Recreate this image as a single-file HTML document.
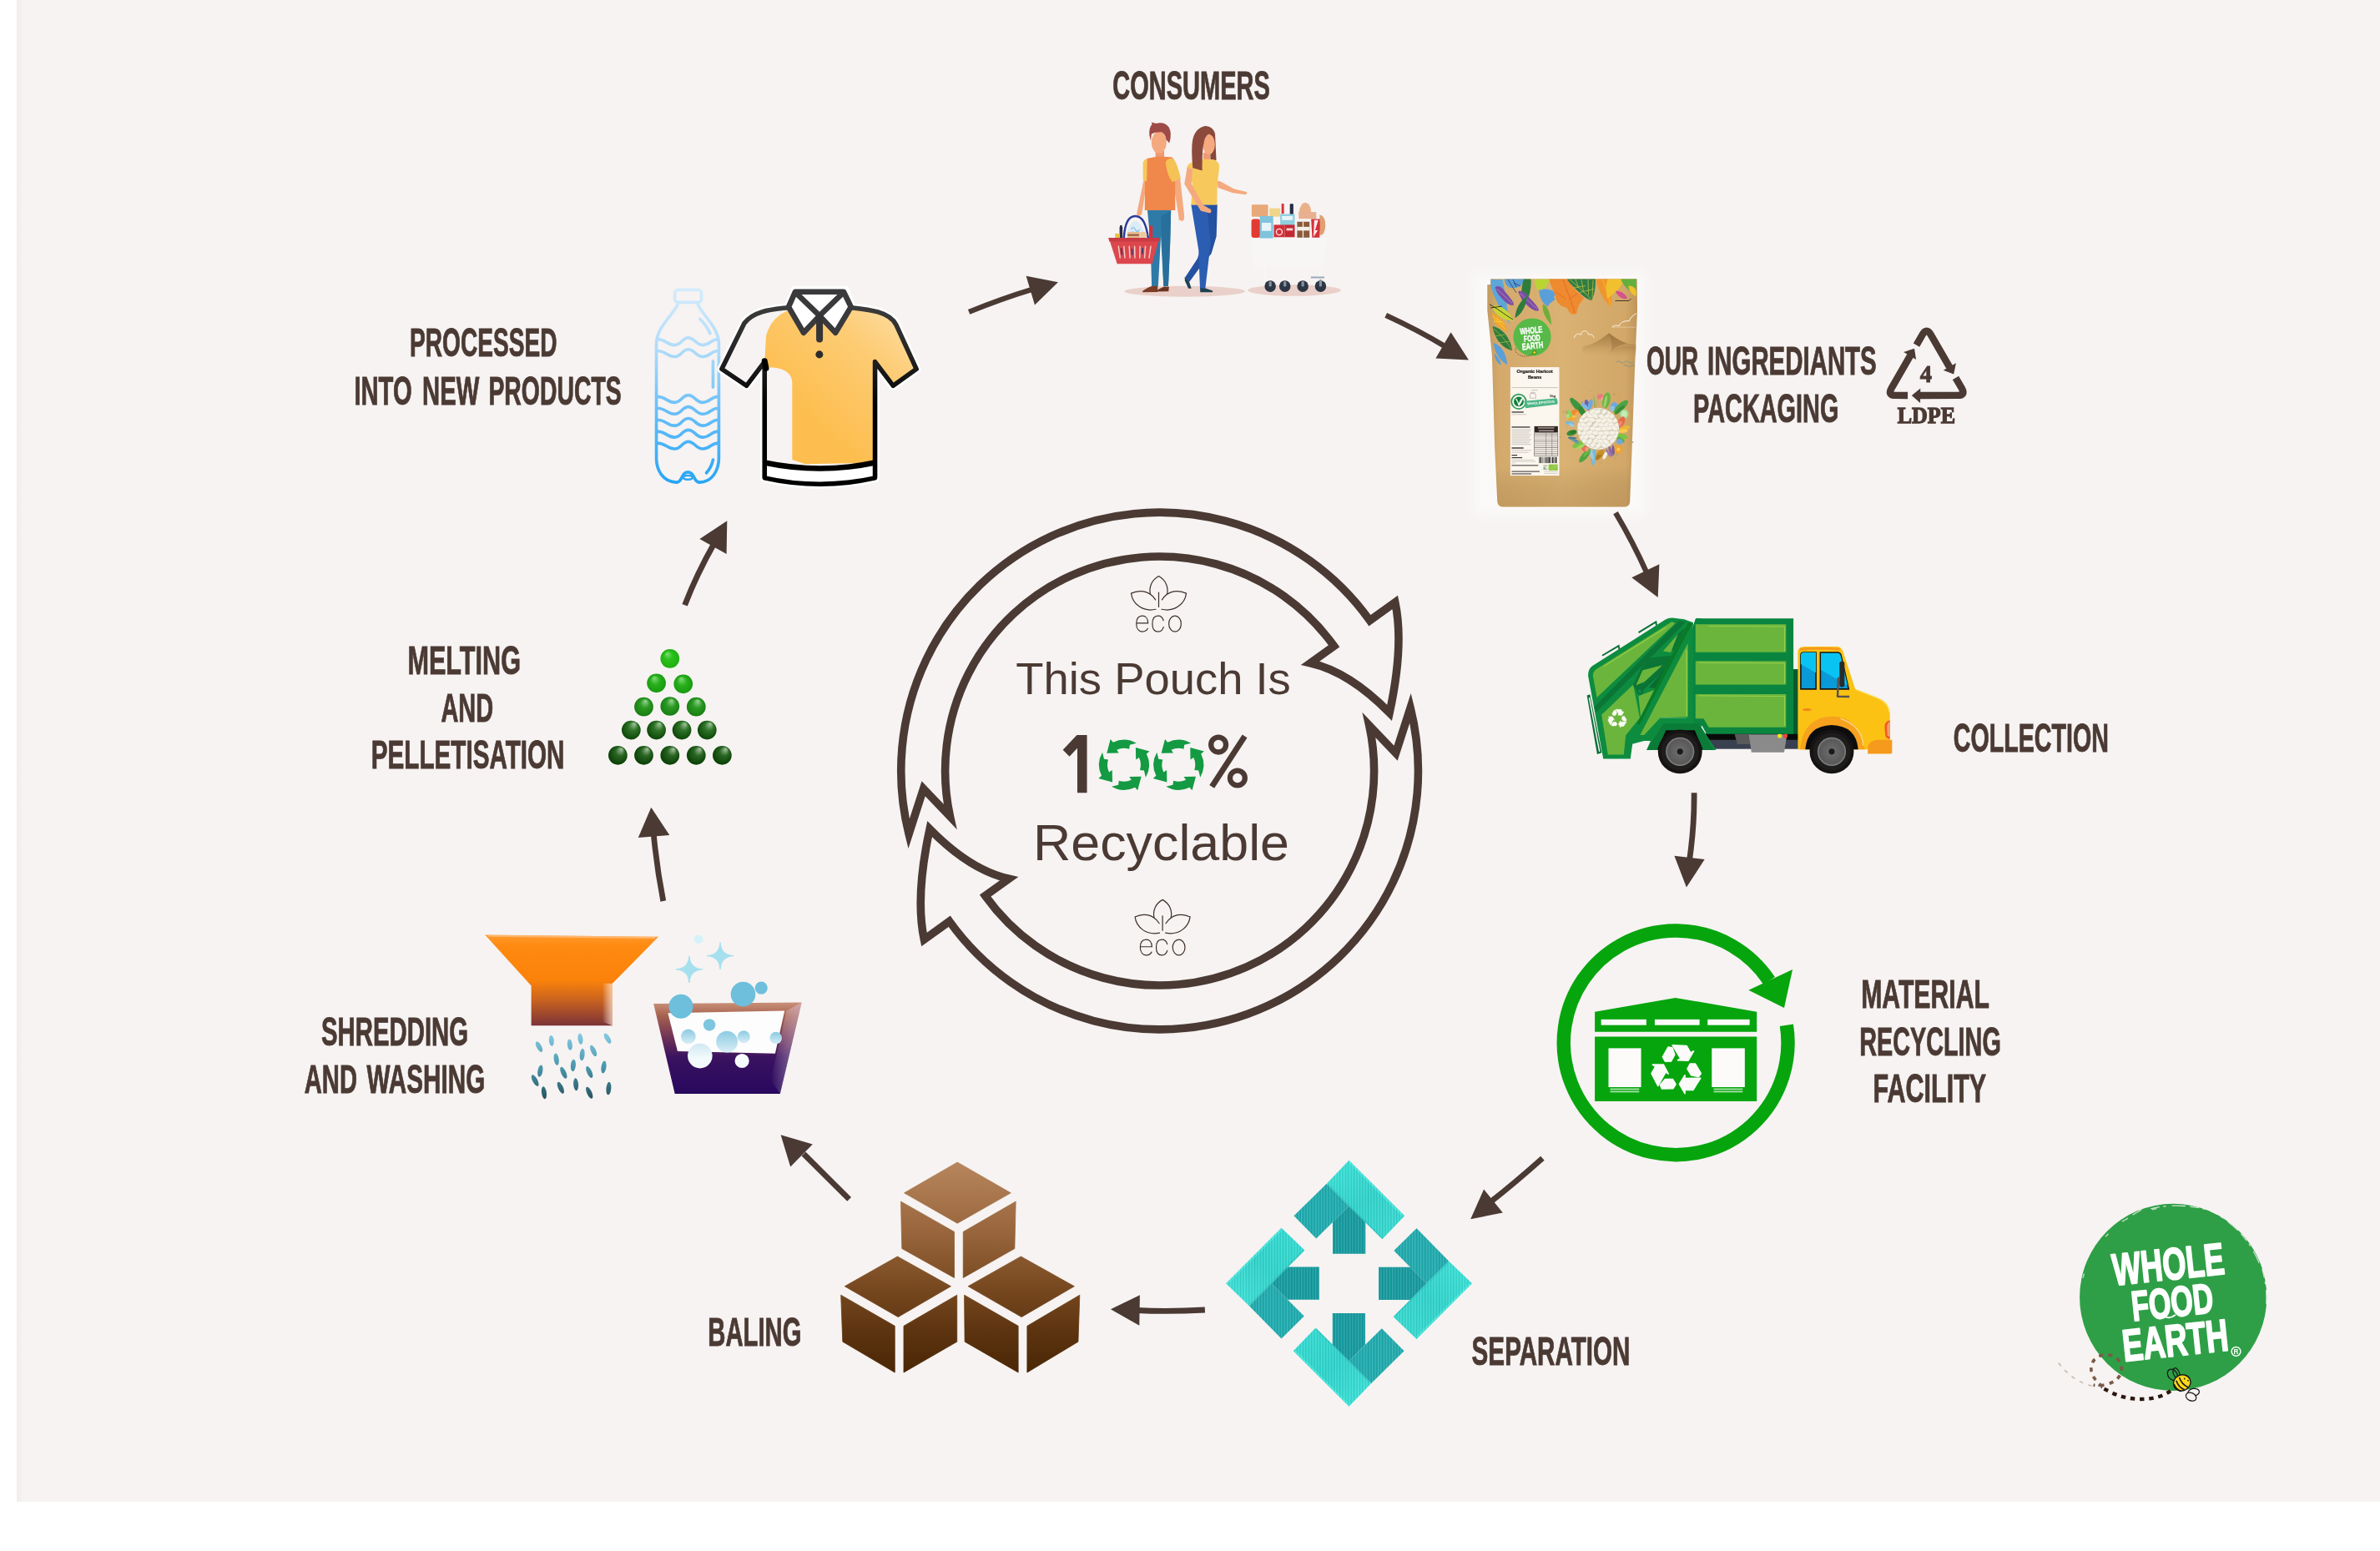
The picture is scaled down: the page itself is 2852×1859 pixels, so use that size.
<!DOCTYPE html>
<html><head><meta charset="utf-8"><title>Recycling cycle</title>
<style>
html,body{margin:0;padding:0;background:#fff;}
svg{display:block;will-change:transform;}
text{font-family:"Liberation Sans",sans-serif;}
text.sf{font-family:"Liberation Serif",serif;font-weight:bold;}
.lb{font-family:"Liberation Sans",sans-serif;font-weight:bold;fill:#4b3a34;stroke:#4b3a34;stroke-width:0.9px;}
</style></head><body>
<svg width="2852" height="1859" viewBox="0 0 2852 1859">
<defs>
<linearGradient id="bgL" x1="0" x2="1" y1="0" y2="0"><stop offset="0" stop-color="#f0eceb"/><stop offset="1" stop-color="#f6f3f2"/></linearGradient>
</defs>
<rect x="20" y="0" width="2832" height="1800" fill="#f6f3f2"/>
<rect x="20" y="0" width="8" height="1800" fill="url(#bgL)"/>
<defs><filter id="pglow" x="-20%" y="-20%" width="140%" height="140%"><feGaussianBlur stdDeviation="7"/></filter>
</defs>
<rect x="1766" y="328" width="206" height="290" fill="#fdfcfb" opacity="0.75" filter="url(#pglow)"/>
<defs>
<g id="rec3a" fill="currentColor" stroke="currentColor" stroke-width="5" stroke-linejoin="round">
<polygon points="9,55.3 30.5,21 30.5,33.5 91,32.5 62,78.5 30.5,78.5 30.5,92"/>
<polygon points="51,-23.5 70.5,-23.5 93,14 83.5,27 55,21.5 40,-3.5"/>
</g>
<g id="rec3"><use href="#rec3a"/><use href="#rec3a" transform="rotate(120)"/><use href="#rec3a" transform="rotate(240)"/></g>
</defs>
<defs>
<!-- Whole Food Earth wordmark, in logo-local coords (zoom 5.54, origin (2440,1420)); circle centre (909.5,747.5) r 620 -->
<g id="wfeText" transform="rotate(-6 909.5 747.5)" fill="#fff" stroke="#fff" stroke-width="11" stroke-linejoin="round" stroke-linecap="round" font-family="Liberation Sans, sans-serif" font-weight="bold" text-anchor="middle">
<text x="900" y="628" font-size="298" textLength="745" lengthAdjust="spacingAndGlyphs">WHOLE</text>
<text x="900" y="876" font-size="280" textLength="545" lengthAdjust="spacingAndGlyphs">FOOD</text>
<text x="893" y="1136" font-size="298" textLength="705" lengthAdjust="spacingAndGlyphs">EARTH</text>
</g>
</defs>
<g class="lb" opacity="0.999" font-size="47.24">
<text x="1333.3" y="119.4" textLength="188.6" lengthAdjust="spacingAndGlyphs">CONSUMERS</text>
<text x="1972.9" y="449.1" textLength="62.2" lengthAdjust="spacingAndGlyphs">OUR</text>
<text x="2046.1" y="449.1" textLength="202.6" lengthAdjust="spacingAndGlyphs">INGREDIANTS</text>
<text x="2029.1" y="505.8" textLength="174.3" lengthAdjust="spacingAndGlyphs">PACKAGING</text>
<text x="2340.8" y="900.9" textLength="186.1" lengthAdjust="spacingAndGlyphs">COLLECTION</text>
<text x="2230.2" y="1207.8" textLength="153.7" lengthAdjust="spacingAndGlyphs">MATERIAL</text>
<text x="2228.2" y="1264.6" textLength="169.6" lengthAdjust="spacingAndGlyphs">RECYCLING</text>
<text x="2244.6" y="1321.3" textLength="135.5" lengthAdjust="spacingAndGlyphs">FACILITY</text>
<text x="1763.6" y="1636.1" textLength="189.9" lengthAdjust="spacingAndGlyphs">SEPARATION</text>
<text x="848.3" y="1612.8" textLength="112.1" lengthAdjust="spacingAndGlyphs">BALING</text>
<text x="385.0" y="1253.3" textLength="176.1" lengthAdjust="spacingAndGlyphs">SHREDDING</text>
<text x="364.8" y="1310.3" textLength="63.2" lengthAdjust="spacingAndGlyphs">AND</text>
<text x="439.5" y="1310.3" textLength="141.7" lengthAdjust="spacingAndGlyphs">WASHING</text>
<text x="488.4" y="807.8" textLength="135.6" lengthAdjust="spacingAndGlyphs">MELTING</text>
<text x="528.4" y="864.6" textLength="62.8" lengthAdjust="spacingAndGlyphs">AND</text>
<text x="444.7" y="921.3" textLength="231.8" lengthAdjust="spacingAndGlyphs">PELLETISATION</text>
<text x="491.0" y="427.1" textLength="176.5" lengthAdjust="spacingAndGlyphs">PROCESSED</text>
<text x="424.4" y="484.6" textLength="69.2" lengthAdjust="spacingAndGlyphs">INTO</text>
<text x="506.1" y="484.6" textLength="68.2" lengthAdjust="spacingAndGlyphs">NEW</text>
<text x="585.4" y="484.6" textLength="159.3" lengthAdjust="spacingAndGlyphs">PRODUCTS</text>
</g>
<g fill="#4b3a34" stroke="#4b3a34">
<path d="M1161.1 373.9 Q1200 358 1238 346.5" fill="none" stroke-width="6.2"/>
<polygon points="1267.9,338.2 1229.6,330.7 1240.0,365.4" stroke="none"/>
<path d="M1660.7 377.9 Q1700 396 1733 416" fill="none" stroke-width="6.4"/>
<polygon points="1760.0,431.4 1738.6,398.2 1720.4,429.6" stroke="none"/>
<path d="M1936 614.7 Q1957 650 1974 688" fill="none" stroke-width="6.4"/>
<polygon points="1986.7,716.1 1988.4,676.3 1955.3,692.2" stroke="none"/>
<path d="M2030.1 950.3 Q2030.5 990 2024.5 1031" fill="none" stroke-width="6.8"/>
<polygon points="2020.9,1063.4 2006.4,1025.7 2042.7,1030.1" stroke="none"/>
<path d="M1848.4 1388.2 Q1815 1418 1785 1441.5" fill="none" stroke-width="6.8"/>
<polygon points="1762.2,1461.2 1778.1,1425.6 1800.8,1453.5" stroke="none"/>
<path d="M1443.9 1570 Q1400 1572.5 1362 1570.5" fill="none" stroke-width="6.8"/>
<polygon points="1330.9,1569.2 1365.9,1552.2 1365.3,1588.8" stroke="none"/>
<path d="M1017.6 1437.4 L963 1383" fill="none" stroke-width="6.8"/>
<polygon points="935.6,1360.2 973.8,1371.5 947.2,1398.4" stroke="none"/>
<path d="M794.8 1080 Q787 1040 783.3 1000" fill="none" stroke-width="6.8"/>
<polygon points="780.3,967.7 764.8,1003.9 802.3,1001.0" stroke="none"/>
<path d="M820.6 725.2 Q835 688 856 651" fill="none" stroke-width="6.8"/>
<polygon points="871.3,624.2 838.4,646.1 870.6,663.9" stroke="none"/>
</g>
<g fill="none" stroke="#4b3a34" stroke-width="9.6" stroke-linejoin="miter" stroke-miterlimit="10">
<path d="M1089.1 999.5 A309.8 309.8 0 0 1 1641.5 743.7 L1671.8 721.9 Q1682.7 773.1 1665.1 854.3 Q1617.0 805.3 1570.3 794.7 L1598.6 774.4 A257.0 257.0 0 0 0 1138.5 978.7 L1106.6 945.3 Z"/>
<path d="M1690.1 848.5 A309.8 309.8 0 0 1 1137.7 1104.3 L1107.4 1126.1 Q1096.5 1074.9 1114.1 993.7 Q1162.2 1042.7 1208.9 1053.3 L1180.6 1073.6 A257.0 257.0 0 0 0 1640.7 869.3 L1672.6 902.7 Z"/>
</g>
<defs><g id="eco" fill="none" stroke="#3e302b" stroke-width="17" stroke-linecap="round" stroke-linejoin="round">
<path d="M825 290 C 700 360, 660 480, 682 590 M825 290 C 950 360, 990 480, 968 590"/>
<path d="M360 580 C 480 520, 660 520, 770 690 M360 580 C 380 760, 560 900, 775 850"/>
<path d="M1290 580 C 1170 520, 990 520, 880 690 M1290 580 C 1270 760, 1090 900, 875 850"/>
<path d="M825 565 L825 810"/>
<path d="M452 1085 L645 1085 C 645 1000, 600 962, 548 962 C 480 962, 448 1020, 448 1095 C 448 1170, 485 1228, 552 1228 C 595 1228, 625 1205, 640 1175"/>
<path d="M905 1040 C 890 990, 860 962, 815 962 C 750 962, 718 1020, 718 1095 C 718 1170, 750 1228, 815 1228 C 860 1228, 892 1198, 905 1150"/>
<ellipse cx="1100" cy="1095" rx="104" ry="133"/>
</g></defs>
<use href="#eco" transform="translate(1330,670) scale(0.07092)"/>
<use href="#eco" transform="translate(1334.6,1057.8) scale(0.07092)"/>
<g fill="#4b3a34" font-family="Liberation Sans, sans-serif">
<text x="1217.3" y="831.9" font-size="54.5" textLength="329.5" lengthAdjust="spacingAndGlyphs">This Pouch Is</text>
<text x="1238" y="1030.7" font-size="62" textLength="307" lengthAdjust="spacingAndGlyphs">Recyclable</text>
</g>
<g transform="translate(1260,860) scale(0.10504)">
<polygon points="290,200 405,200 405,860 295,860 295,350 205,445 130,368" fill="#4b3a34"/>
<g fill="none" stroke="#4b3a34"><circle cx="1905" cy="310" r="85" stroke-width="60"/><circle cx="2122" cy="690" r="85" stroke-width="60"/><path d="M2205 212 L1830 790" stroke-width="66"/></g>
<g fill="#149a42">
<path d="M970.5 293.2 A285 285 0 0 0 703.1 283.8 L673.1 248.6 L631.1 407.2 L767.8 404.8 L744.7 369.2 A190 190 0 0 1 886.7 359.3 L893.5 311.7 Z"/>
<path d="M581.2 397.5 A285 285 0 0 0 571.8 664.9 L536.6 694.9 L695.2 736.9 L692.8 600.2 L657.2 623.3 A190 190 0 0 1 647.3 481.3 L599.7 474.5 Z"/>
<path d="M685.5 786.8 A285 285 0 0 0 952.9 796.2 L982.9 831.4 L1024.9 672.8 L888.2 675.2 L911.3 710.8 A190 190 0 0 1 769.3 720.7 L762.5 768.3 Z"/>
<path d="M1074.8 682.5 A285 285 0 0 0 1084.2 415.1 L1119.4 385.1 L960.8 343.1 L963.2 479.8 L998.8 456.7 A190 190 0 0 1 1008.7 598.7 L1056.3 605.5 Z"/>
<path d="M1592.5 293.2 A285 285 0 0 0 1325.1 283.8 L1295.1 248.6 L1253.1 407.2 L1389.8 404.8 L1366.7 369.2 A190 190 0 0 1 1508.7 359.3 L1515.5 311.7 Z"/>
<path d="M1203.2 397.5 A285 285 0 0 0 1193.8 664.9 L1158.6 694.9 L1317.2 736.9 L1314.8 600.2 L1279.2 623.3 A190 190 0 0 1 1269.3 481.3 L1221.7 474.5 Z"/>
<path d="M1307.5 786.8 A285 285 0 0 0 1574.9 796.2 L1604.9 831.4 L1646.9 672.8 L1510.2 675.2 L1533.3 710.8 A190 190 0 0 1 1391.3 720.7 L1384.5 768.3 Z"/>
<path d="M1696.8 682.5 A285 285 0 0 0 1706.2 415.1 L1741.4 385.1 L1582.8 343.1 L1585.2 479.8 L1620.8 456.7 A190 190 0 0 1 1630.7 598.7 L1678.3 605.5 Z"/>
</g></g>
<!-- pellets: local zoom 4.76, origin (420,740) -->
<defs>
<radialGradient id="pg1" cx="0.5" cy="0.5" r="0.5" fx="0.35" fy="0.22"><stop offset="0" stop-color="#7fe07a"/><stop offset="0.45" stop-color="#2bc01c"/><stop offset="1" stop-color="#1fb010"/></radialGradient>
<radialGradient id="pg2" cx="0.5" cy="0.5" r="0.5" fx="0.38" fy="0.2"><stop offset="0" stop-color="#86dc80"/><stop offset="0.5" stop-color="#27b01a"/><stop offset="1" stop-color="#189a10"/></radialGradient>
<radialGradient id="pg3" cx="0.5" cy="0.5" r="0.55" fx="0.6" fy="0.18"><stop offset="0" stop-color="#9fd39a"/><stop offset="0.45" stop-color="#2b9a22"/><stop offset="1" stop-color="#157a10"/></radialGradient>
<radialGradient id="pg4" cx="0.5" cy="0.5" r="0.6" fx="0.68" fy="0.15"><stop offset="0" stop-color="#a5c7a0"/><stop offset="0.4" stop-color="#2f7428"/><stop offset="0.85" stop-color="#0f4a0a"/></radialGradient>
<radialGradient id="pg5" cx="0.5" cy="0.5" r="0.6" fx="0.7" fy="0.15"><stop offset="0" stop-color="#a9c4a5"/><stop offset="0.4" stop-color="#2a6624"/><stop offset="0.85" stop-color="#0b4207"/></radialGradient>
</defs>
<g transform="translate(420,740) scale(0.210084)">
<circle cx="1822" cy="235" r="54" fill="url(#pg1)"/>
<circle cx="1745" cy="375" r="54" fill="url(#pg2)"/><circle cx="1898" cy="380" r="54" fill="url(#pg2)"/>
<circle cx="1673" cy="510" r="54" fill="url(#pg3)"/><circle cx="1822" cy="507" r="54" fill="url(#pg3)"/><circle cx="1972" cy="510" r="54" fill="url(#pg3)"/>
<circle cx="1601" cy="643" r="54" fill="url(#pg4)"/><circle cx="1745" cy="643" r="54" fill="url(#pg4)"/><circle cx="1890" cy="643" r="54" fill="url(#pg4)"/><circle cx="2034" cy="643" r="54" fill="url(#pg4)"/>
<circle cx="1525" cy="787" r="54" fill="url(#pg5)"/><circle cx="1673" cy="787" r="54" fill="url(#pg5)"/><circle cx="1822" cy="787" r="54" fill="url(#pg5)"/><circle cx="1972" cy="787" r="54" fill="url(#pg5)"/><circle cx="2120" cy="787" r="54" fill="url(#pg5)"/>
</g>
<!-- cubes: local zoom 3.71875, origin (820,1350) -->
<defs>
<linearGradient id="cubeG" gradientUnits="userSpaceOnUse" x1="0" y1="160" x2="0" y2="1100"><stop offset="0" stop-color="#b8865c"/><stop offset="0.35" stop-color="#96633a"/><stop offset="0.6" stop-color="#77481f"/><stop offset="0.8" stop-color="#5d3410"/><stop offset="1" stop-color="#4a2605"/></linearGradient>
</defs>
<g transform="translate(820,1350) scale(0.268908)" fill="url(#cubeG)" stroke="url(#cubeG)" stroke-width="3" stroke-linejoin="round">
<polygon points="1217,160 1455,297 1217,432 980,297"/>
<polygon points="965,335 1203,470 1203,675 970,545"/>
<polygon points="1243,470 1477,335 1472,545 1243,675"/>
<polygon points="950,580 1188,713 953,850 715,713"/>
<polygon points="698,752 938,890 938,1097 706,960"/>
<polygon points="978,890 1215,752 1215,960 978,1097"/>
<polygon points="1500,580 1738,713 1503,850 1265,713"/>
<polygon points="1248,752 1488,890 1488,1097 1250,960"/>
<polygon points="1528,890 1762,752 1755,960 1528,1097"/>
</g>
<!-- separation: local zoom 4.4074, origin (1440,1370) -->
<defs>
<linearGradient id="sepL" x1="0" y1="0" x2="1" y2="1"><stop offset="0" stop-color="#3ce3d8"/><stop offset="0.5" stop-color="#2ed3cb"/><stop offset="1" stop-color="#35dcd2"/></linearGradient>
<polygon id="sp1" points="692,585 692,418 778,333 865,418 865,585"/>
<polygon id="sp2" points="660,215 487,385 605,505 778,333"/>
<polygon id="sp3" points="778,92 1072,385 954,508 660,215"/>
<g id="sepA">
<use href="#sp1" fill="#14999d"/><use href="#sp2" fill="#1eaaad"/><use href="#sp3" fill="url(#sepL)"/>
<path d="M778 100 L1062 385" stroke="#4df0e4" stroke-width="7" fill="none" opacity="0.75"/>
<path d="M668 218 L950 500" stroke="#1fbcb8" stroke-width="6" fill="none" opacity="0.6"/>
</g>
<g id="sepM" fill="#fff"><use href="#sp1"/><use href="#sp2"/><use href="#sp3"/></g>
<mask id="sepMask" maskUnits="userSpaceOnUse" x="100" y="60" width="1380" height="1380">
<use href="#sepM"/><use href="#sepM" transform="rotate(90 778 742)"/><use href="#sepM" transform="rotate(180 778 742)"/><use href="#sepM" transform="rotate(270 778 742)"/>
</mask>
<pattern id="hatch" patternUnits="userSpaceOnUse" width="15" height="60" patternTransform="skewY(-20)"><rect x="0" y="0" width="5" height="60" fill="#fff" opacity="0.16"/><rect x="8" y="0" width="4" height="60" fill="#003a40" opacity="0.10"/></pattern>
</defs>
<g transform="translate(1440,1370) scale(0.226891)">
<use href="#sepA"/>
<use href="#sepA" transform="rotate(90 778 742)"/>
<use href="#sepA" transform="rotate(180 778 742)"/>
<use href="#sepA" transform="rotate(270 778 742)"/>
<rect x="100" y="60" width="1380" height="1380" fill="url(#hatch)" mask="url(#sepMask)"/>
</g>
<!-- facility: local zoom 3.9667, origin (1840,1090) -->
<g transform="translate(1840,1090) scale(0.2521)">
<path d="M1193.4 550.6 A533 533 0 1 1 1110.9 339.0" fill="none" stroke="#06a50d" stroke-width="65"/>
<polygon points="1222,286 1013,384 1182,468" fill="#06a50d"/>
<polygon points="282,487 665,420 1052,487 1052,582 282,582" fill="#06a50d"/>
<rect x="282" y="605" width="770" height="307" fill="#06a50d"/>
<g fill="#fcfbfa"><rect x="312" y="523" width="215" height="27"/><rect x="567" y="523" width="213" height="27"/><rect x="818" y="523" width="200" height="27"/>
<rect x="347" y="660" width="155" height="185"/><rect x="838" y="660" width="157" height="185"/></g>
<g fill="#a9e2a8"><rect x="355" y="851" width="138" height="7"/><rect x="355" y="863" width="138" height="7"/><rect x="847" y="851" width="138" height="7"/><rect x="847" y="863" width="138" height="7"/></g>
<use href="#rec3" transform="translate(672.8,762.4) scale(1.2275)" color="#fcfbfa"/>
</g>
<!-- shredding funnel + washing basin: local zoom 3.71875, origin (340,1090) -->
<defs>
<linearGradient id="funG" gradientUnits="userSpaceOnUse" x1="0" y1="113" x2="0" y2="518"><stop offset="0" stop-color="#ff9a2e"/><stop offset="0.12" stop-color="#ff8a10"/><stop offset="0.5" stop-color="#fb820a"/><stop offset="0.72" stop-color="#c8621f"/><stop offset="1" stop-color="#7c3338"/></linearGradient>
<linearGradient id="funH" x1="0" y1="0" x2="1" y2="0"><stop offset="0" stop-color="#fff" stop-opacity="0"/><stop offset="1" stop-color="#ffe0c8" stop-opacity="0.75"/></linearGradient>
<linearGradient id="flk" gradientUnits="userSpaceOnUse" x1="0" y1="550" x2="0" y2="850"><stop offset="0" stop-color="#86cbe4"/><stop offset="0.5" stop-color="#4b97ad"/><stop offset="1" stop-color="#27525f"/></linearGradient>
<linearGradient id="basG" gradientUnits="userSpaceOnUse" x1="0" y1="415" x2="0" y2="822"><stop offset="0" stop-color="#c99078"/><stop offset="0.15" stop-color="#a5604f"/><stop offset="0.4" stop-color="#6b2f58"/><stop offset="0.6" stop-color="#3a1260"/><stop offset="1" stop-color="#28085e"/></linearGradient>
<linearGradient id="basH" x1="0" y1="0" x2="1" y2="0"><stop offset="0" stop-color="#fff" stop-opacity="0"/><stop offset="1" stop-color="#d8b8d8" stop-opacity="0.55"/></linearGradient>
<linearGradient id="bubL" x1="0" y1="0" x2="0" y2="1"><stop offset="0" stop-color="#8ccbe2"/><stop offset="1" stop-color="#d9eef6"/></linearGradient>
<linearGradient id="bubW" x1="0" y1="0" x2="0" y2="1"><stop offset="0" stop-color="#cfe8f2"/><stop offset="0.6" stop-color="#f4fafc"/></linearGradient>
<path id="spk" d="M0 -60 Q2 -2 60 0 Q2 2 0 60 Q-2 2 -60 0 Q-2 -2 0 -60Z" stroke-width="5"/>
</defs>
<g transform="translate(340,1090) scale(0.268908)">
<polygon points="897,113 1670,122 1465,330 1465,518 1103,518 1103,340" fill="url(#funG)"/>
<polygon points="1420,330 1465,330 1465,518 1420,500" fill="url(#funH)"/>
<path d="M910 118 L1655 126" stroke="#ffc38a" stroke-width="8" opacity="0.7"/>
<g fill="url(#flk)">
<ellipse cx="1138" cy="612" rx="11" ry="26" transform="rotate(-28 1138 612)"/><ellipse cx="1193" cy="585" rx="11" ry="24" transform="rotate(-5 1193 585)"/><ellipse cx="1275" cy="603" rx="11" ry="25" transform="rotate(-5 1275 603)"/><ellipse cx="1322" cy="577" rx="11" ry="25" transform="rotate(-8 1322 577)"/><ellipse cx="1443" cy="575" rx="11" ry="26" transform="rotate(-30 1443 575)"/>
<ellipse cx="1215" cy="668" rx="11" ry="27" transform="rotate(-8 1215 668)"/><ellipse cx="1330" cy="647" rx="11" ry="27" transform="rotate(5 1330 647)"/><ellipse cx="1380" cy="630" rx="11" ry="27" transform="rotate(-25 1380 630)"/>
<ellipse cx="1143" cy="720" rx="11" ry="27" transform="rotate(10 1143 720)"/><ellipse cx="1290" cy="695" rx="11" ry="27" transform="rotate(5 1290 695)"/><ellipse cx="1247" cy="728" rx="11" ry="28" transform="rotate(-25 1247 728)"/><ellipse cx="1362" cy="725" rx="11" ry="28" transform="rotate(-25 1362 725)"/><ellipse cx="1426" cy="703" rx="11" ry="28" transform="rotate(8 1426 703)"/>
<ellipse cx="1120" cy="763" rx="11" ry="28" transform="rotate(-28 1120 763)"/><ellipse cx="1302" cy="780" rx="11" ry="28" transform="rotate(-5 1302 780)"/><ellipse cx="1234" cy="795" rx="11" ry="28" transform="rotate(-25 1234 795)"/><ellipse cx="1448" cy="798" rx="11" ry="29" transform="rotate(5 1448 798)"/>
<ellipse cx="1160" cy="817" rx="11" ry="28" transform="rotate(-8 1160 817)"/><ellipse cx="1362" cy="817" rx="11" ry="28" transform="rotate(-25 1362 817)"/>
</g>
<polygon points="1648,420 2308,415 2212,822 1743,822" fill="url(#basG)"/>
<polygon points="2240,452 2308,415 2212,822 2170,760" fill="url(#basH)"/>
<polygon points="1712,462 2232,452 2190,642 1755,632" fill="#fdfdfd"/>
<circle cx="1770" cy="432" r="54" fill="#6dbfdb"/><circle cx="2047" cy="378" r="55" fill="#6dbfdb"/><circle cx="2128" cy="350" r="28" fill="#6dbfdb"/>
<circle cx="1897" cy="515" r="27" fill="#7ec6df"/>
<circle cx="1803" cy="567" r="33" fill="url(#bubL)"/><circle cx="1975" cy="590" r="48" fill="url(#bubL)"/><circle cx="2050" cy="568" r="28" fill="url(#bubL)"/><circle cx="2193" cy="573" r="27" fill="url(#bubL)"/>
<circle cx="1855" cy="653" r="55" fill="url(#bubW)"/><circle cx="2042" cy="675" r="32" fill="#f6fbfd"/>
<use href="#spk" transform="translate(1807,267)" fill="#a6e0ee" stroke="#a6e0ee"/><use href="#spk" transform="translate(1945,207)" fill="#a6e0ee" stroke="#a6e0ee"/>
<circle cx="1848" cy="133" r="20" fill="#d5f2f8"/>
</g>
<!-- bottle + polo shirt: local zoom 5.744, origin (770,330) -->
<defs>
<linearGradient id="botG" gradientUnits="userSpaceOnUse" x1="0" y1="95" x2="0" y2="1430"><stop offset="0" stop-color="#d4ebfb"/><stop offset="0.3" stop-color="#b1dcfa"/><stop offset="0.6" stop-color="#6ec1f8"/><stop offset="1" stop-color="#27a5f5"/></linearGradient>
<linearGradient id="shirtG" x1="1" y1="0" x2="0.35" y2="0.75"><stop offset="0" stop-color="#fddfa8"/><stop offset="0.45" stop-color="#fdcb72"/><stop offset="1" stop-color="#fdbe4f"/></linearGradient>
<linearGradient id="olG" gradientUnits="userSpaceOnUse" x1="0" y1="100" x2="0" y2="1440"><stop offset="0" stop-color="#444"/><stop offset="0.35" stop-color="#222"/><stop offset="0.6" stop-color="#000"/></linearGradient>
</defs>
<g transform="translate(770,330) scale(0.174095)">
<g fill="none" stroke="url(#botG)" stroke-width="21" stroke-linecap="round" stroke-linejoin="round">
<rect x="222" y="100" width="183" height="86" rx="22"/>
<path d="M245 190 C 235 250, 95 350, 95 470 L95 1260 C 95 1340, 140 1425, 235 1425 C 275 1425, 265 1355, 312 1355 C 360 1355, 350 1425, 390 1425 C 480 1425, 525 1340, 525 1260 L525 470 C 525 350, 385 250, 378 190"/>
<path d="M100 440 C 160 440, 170 480, 220 480 C 270 480, 270 430, 315 430 C 360 430, 365 480, 415 480 C 465 480, 470 440, 520 440"/>
<path d="M100 520 C 160 520, 170 560, 220 560 C 270 560, 270 510, 315 510 C 360 510, 365 560, 415 560 C 465 560, 470 520, 520 520"/>
<path d="M100 835 C 160 835, 170 875, 220 875 C 270 875, 270 825, 315 825 C 360 825, 365 875, 415 875 C 465 875, 470 835, 520 835"/>
<path d="M100 915 C 160 915, 170 955, 220 955 C 270 955, 270 905, 315 905 C 360 905, 365 955, 415 955 C 465 955, 470 915, 520 915"/>
<path d="M100 995 C 160 995, 170 1035, 220 1035 C 270 1035, 270 985, 315 985 C 360 985, 365 1035, 415 1035 C 465 1035, 470 995, 520 995"/>
<path d="M100 1075 C 160 1075, 170 1115, 220 1115 C 270 1115, 270 1065, 315 1065 C 360 1065, 365 1115, 415 1115 C 465 1115, 470 1075, 520 1075"/>
<path d="M100 1155 C 160 1155, 170 1195, 220 1195 C 270 1195, 270 1145, 315 1145 C 360 1145, 365 1195, 415 1195 C 465 1195, 470 1155, 520 1155"/>
<path d="M395 300 Q440 345 465 400 M485 590 L485 770 M485 1270 Q475 1320 440 1360"/>
<ellipse cx="312" cy="1392" rx="32" ry="14" stroke-width="14"/>
</g>
<!-- shirt -->
<path id="shirtO" d="M1003 222 C 900 235, 770 240, 700 330 L545 645 L715 760 L840 595 L840 1395 Q1220 1480 1600 1395 L1600 595 L1725 760 L1885 645 L1745 340 C 1700 250, 1560 235, 1437 222 L1395 105 L1050 105 Z" fill="#fff" stroke="#fff" stroke-width="62" stroke-linejoin="round"/>
<path d="M1003 222 C 900 235, 770 240, 700 330 L545 645 L715 760 L840 595 L840 1395 Q1220 1480 1600 1395 L1600 595 L1725 760 L1885 645 L1745 340 C 1700 250, 1560 235, 1437 222 L1395 105 L1050 105 Z" fill="#f7f3f2"/>
<path d="M1003 240 C 960 260, 880 300, 850 420 L840 600 L840 640 C 900 625, 1030 640, 1030 740 L1030 1270 L1120 1300 L1600 1290 L1600 595 L1725 760 L1885 645 L1745 340 C 1700 250, 1560 235, 1437 222 L1330 395 L1215 260 L1110 395 Z" fill="url(#shirtG)"/>
<path d="M840 1285 Q1220 1365 1600 1285 L1600 1395 Q1220 1480 840 1395 Z" fill="#fff"/>
<path d="M840 1290 Q1220 1370 1600 1290" fill="none" stroke="#000" stroke-width="38"/>
<path d="M1003 222 C 900 235, 770 240, 700 330 L545 645 L715 760 L840 595 L840 1395 Q1220 1480 1600 1395 L1600 595 L1725 760 L1885 645 L1745 340 C 1700 250, 1560 235, 1437 222" fill="none" stroke="url(#olG)" stroke-width="32" stroke-linejoin="round" stroke-linecap="round"/>
<path d="M840 590 L850 640" stroke="#000" stroke-width="40" stroke-linecap="round"/>
<!-- collar -->
<polygon points="1050.8,113.7 1384.1,113.7 1434.5,217.4 1327.8,395.2 1218.2,275 1108.6,395.2 1004.9,217.4" fill="#fff"/>
<g fill="none" stroke="#3a3a3c" stroke-width="38" stroke-linejoin="round" stroke-linecap="round">
<path d="M1050.8 113.7 L1384.1 113.7 L1434.5 217.4 L1327.8 395.2 L1218.2 278 L1108.6 395.2 L1004.9 217.4 Z"/>
<path d="M1056 122 L1218.2 278 L1379 122"/>
<path d="M1218.2 285 L1218.2 440" stroke-width="46" stroke="#353538"/>
</g>
<circle cx="1217" cy="545" r="26" fill="#2b2b2b"/>
</g>
<!-- LDPE recycling triangle: local zoom 11.075, origin (2250,380) -->
<defs>
<g id="ldA"><path d="M515 372 L596 232 Q650 138 704 232 L955 666" fill="none" stroke="#4b3a34" stroke-width="94" stroke-linejoin="round"/><polygon points="1010,760 1040,612 872,706" fill="#4b3a34"/></g>
</defs>
<g transform="translate(2250,380) scale(0.090293)">
<use href="#ldA"/><use href="#ldA" transform="rotate(120 650 739.3)"/><use href="#ldA" transform="rotate(240 650 739.3)"/>
<g fill="#4b3a34" stroke="#4b3a34" font-family="Liberation Serif, serif" font-weight="bold">
<text class="sf" x="561" y="862" font-size="315" stroke-width="10">4</text>
<text class="sf" x="262" y="1405" font-size="308" textLength="770" lengthAdjust="spacingAndGlyphs" stroke-width="14">LDPE</text>
</g>
</g>
<!-- truck: main local zoom 5.667, origin (1880,720); hopper local zoom 8.161, origin (1890,730) -->
<defs>
<radialGradient id="hubG"><stop offset="0" stop-color="#222"/><stop offset="0.18" stop-color="#333"/><stop offset="0.2" stop-color="#6a6a6a"/><stop offset="0.85" stop-color="#585858"/><stop offset="1" stop-color="#8a8a8a"/></radialGradient>
<g id="wheel"><circle r="150" fill="#151313"/><circle r="128" fill="#1f1c1c"/><circle r="97" fill="url(#hubG)"/><circle r="20" fill="#1a1a1a"/></g>
</defs>
<g transform="translate(1880,720) scale(0.176460)">
<!-- undercarriage -->
<rect x="930" y="900" width="640" height="55" fill="#0a0a0a"/>
<rect x="930" y="945" width="640" height="62" fill="#39404f"/>
<path d="M1125 905 L1145 975 L1230 975 L1230 905Z" fill="#5a5a5a"/>
<path d="M1222 908 L1482 908 L1462 1030 L1240 1030 Z" fill="#8a8a8a"/>
<circle cx="1432" cy="918" r="15" fill="#f4e21c"/><circle cx="1470" cy="918" r="15" fill="#e8453a"/>
<!-- gap column between box and cab -->
<rect x="1520" y="465" width="40" height="440" fill="#075a2c"/>
<!-- bridge fill -->
<path d="M800 300 L862 120 L900 120 L900 860 L1000 1015 L528 1015 L560 940 L425 975 L425 940 L620 800 L800 800 Z" fill="#0d8c3f"/>
<!-- main box -->
<path d="M862 120 L1525 120 L1525 905 L935 905 L905 850 L845 850 L845 170 Z" fill="#0a8540"/>
<g fill="#6bb53c"><rect x="860" y="160" width="615" height="190"/><rect x="860" y="410" width="615" height="160"/><path d="M860 635 L1475 635 L1475 860 L950 860 L915 800 L860 800Z"/></g>
<g stroke="#a3da55" stroke-width="5" fill="none" opacity="0.85"><path d="M950 172 L1465 175 L1465 340"/><path d="M880 420 L1465 425 L1465 560"/><path d="M880 645 L1465 650 L1465 850"/></g>
<!-- cab -->
<path d="M1555 1010 L1555 350 Q1555 312 1600 312 L1820 312 Q1850 312 1862 345 L1945 600 L2100 660 Q2175 690 2180 760 L2180 945 L2030 1010 Z" fill="#fbc214"/>
<path d="M1570 330 Q1700 318 1840 330" stroke="#f59a1d" stroke-width="16" fill="none"/>
<path d="M1950 603 L2100 662 Q2170 690 2178 760" stroke="#fde36a" stroke-width="8" fill="none"/>
<path d="M1575 370 Q1575 352 1595 352 L1678 352 L1678 600 L1575 600 Z" fill="#0b9ad8" stroke="#141414" stroke-width="9"/>
<path d="M1575 372 Q1575 352 1595 352 L1678 352 L1678 490 L1575 430 Z" fill="#09c4f2"/>
<path d="M1708 352 L1825 352 Q1842 352 1848 370 L1900 600 L1708 600 Z" fill="#0b9ad8" stroke="#141414" stroke-width="9"/>
<path d="M1712 356 L1825 356 Q1840 356 1845 372 L1893 575 L1712 470 Z" fill="#09c4f2"/>
<rect x="1838" y="412" width="34" height="175" rx="14" fill="#2a2a2a"/>
<path d="M1830 520 L1825 650 L1905 652" stroke="#5a5248" stroke-width="14" fill="none" stroke-linejoin="round"/>
<ellipse cx="1617" cy="740" rx="30" ry="9" fill="#f0861c"/>
<!-- front fender & bumper -->
<path d="M1570 1010 Q1590 790 1790 785 Q1975 790 2010 1010 Z" fill="#f6a21e"/>
<path d="M1845 800 Q1990 850 2000 985" stroke="#fbd27a" stroke-width="9" fill="none"/>
<path d="M1605 1010 Q1620 850 1785 845 Q1950 850 1965 1010 Z" fill="#0c0c0c"/>
<path d="M2030 1040 L2030 990 Q2040 950 2100 945 L2195 945 L2195 1030 Q2195 1040 2185 1040 Z" fill="#f59a1d"/>
<path d="M2180 812 Q2140 820 2145 870 L2150 920 Q2160 940 2180 940 Z" fill="#f15a24"/><path d="M2180 822 Q2158 828 2160 870 L2163 915 L2180 925Z" fill="#f9a06a"/>
<!-- rear wheel arch -->
<path d="M528 1015 L640 835 L880 835 L985 1015 Z" fill="#0b7c38"/>
<path d="M600 1010 L660 880 L855 880 L910 1010Z" fill="#0a0a0a"/>
<use href="#wheel" transform="translate(755,1025)"/>
<use href="#wheel" transform="translate(1785,1025)"/>
</g>
<g transform="translate(1890,730) scale(0.122534)">
<!-- hopper -->
<path d="M930 85 Q890 85 860 105 L150 555 Q100 590 108 660 L255 1465 L520 1465 L545 1290 L700 1245 L810 1065 L1085 1065 L1130 130 L1045 100 Z" fill="#0d8c3f"/>
<path d="M600 230 L770 125 L775 160 M245 455 L405 360 L412 395" fill="none" stroke="#0b6f37" stroke-width="16"/>
<path d="M95 845 L125 835 L240 1405 L195 1420 Z" fill="#0b6f37"/><path d="M118 865 L218 1395" stroke="#f4f4f0" stroke-width="12"/>
<!-- lid -->
<path d="M925 125 L185 590 Q150 615 155 660 L192 865 L960 138 Z" fill="#6bb53c"/>
<path d="M870 180 L260 560" stroke="#a6dc4e" stroke-width="7"/>
<!-- diagonal dark band -->
<path d="M1000 112 L1062 128 L185 1010 L165 960 Z" fill="#0a7535"/>
<!-- lower left panel -->
<path d="M238 1035 L548 738 L612 1065 L475 1235 L455 1425 L300 1425 Z" fill="#6bb53c"/>
<!-- arm structure -->
<path d="M620 590 L700 480 L960 450 L1000 400 L840 415 L990 235 L1060 180 L1000 520 L880 560 L640 800 L590 810 L545 745 Z" fill="#0a7535"/>
<path d="M838 412 L985 245 L915 425 Z" fill="#6bb53c"/>
<path d="M640 598 L835 548 L655 715 L575 745 Z" fill="#6bb53c"/>
<path d="M700 770 L880 560 L800 780 Z" fill="#0a6b30"/>
<path d="M600 850 L790 778 L625 1100 Z" fill="#6bb53c"/>
<circle cx="615" cy="802" r="32" fill="#0b6f37"/><circle cx="615" cy="802" r="18" fill="#12904a"/>
<path d="M615 802 L890 560" stroke="#0b6f37" stroke-width="12"/>
<!-- diagonal bar -->
<path d="M1060 180 L1135 130 L1120 330 L620 1290 L540 1290 L585 1130 Z" fill="#0d8c3f"/>
<path d="M1085 135 L1125 140 L610 1130 L585 1125 Z" fill="#0a7a25"/>
<!-- right big panel -->
<path d="M1082 335 L1082 1055 L812 1062 L655 1232 L615 1232 Z" fill="#6bb53c"/>
<path d="M1070 400 L1072 1045" stroke="#a6dc4e" stroke-width="7"/>
<use href="#rec3" transform="translate(395,1072) scale(0.95)" color="#fafaf5"/>
<path d="M560 1290 L700 1245 L810 1065 L1085 1065 L1085 1100 L830 1100 L720 1290 Z" fill="#0d8c3f"/>
</g>
<!-- Whole Food Earth logo: local zoom 5.54, origin (2440,1420) -->
<g transform="translate(2440,1420) scale(0.180505)">
<circle cx="909.5" cy="747.5" r="621" fill="#2e9f46"/>
<path d="M760 160 Q1000 100 1260 210 M1150 170 Q1380 280 1480 520 M1500 560 Q1535 680 1527 800" fill="none" stroke="#f6f2f1" stroke-width="7" stroke-dasharray="60 25 18 40 90 30" opacity="0.8"/>
<path d="M640 200 L700 165 M570 245 L610 222 M770 165 L800 158 M460 345 L480 325 M310 620 L318 590" stroke="#f6f2f1" stroke-width="8" opacity="0.7"/>
<use href="#wfeText"/>
<g fill="none" stroke="#fff" stroke-width="8"><circle cx="1327" cy="1107" r="30"/></g>
<text x="1327" y="1125" font-size="46" font-weight="bold" fill="#fff" text-anchor="middle">R</text>
<!-- smile under FOOD -->
<path d="M850 872 Q885 895 922 866" fill="none" stroke="#fff" stroke-width="10" stroke-linecap="round"/>
<!-- trail -->
<path d="M892 1368 C 800 1440, 620 1440, 500 1380 C 440 1350, 400 1330, 440 1340" fill="none" stroke="#2b170f" stroke-width="24" stroke-dasharray="30 32"/>
<path d="M440 1340 C 390 1300, 350 1250, 370 1190 C 395 1120, 500 1105, 550 1170 C 590 1230, 560 1300, 470 1325 C 430 1335, 400 1335, 380 1330" fill="none" stroke="#7a5a48" stroke-width="20" stroke-dasharray="28 34"/>
<path d="M370 1335 C 290 1320, 200 1260, 140 1170" fill="none" stroke="#c9b9ae" stroke-width="9" stroke-dasharray="26 36"/>
<!-- bee -->
<g stroke="#1a1a1a" stroke-width="7" fill="none"><ellipse cx="905" cy="1262" rx="30" ry="40" transform="rotate(-35 905 1262)"/><ellipse cx="930" cy="1250" rx="20" ry="34" transform="rotate(-20 930 1250)"/><ellipse cx="1045" cy="1378" rx="38" ry="24" transform="rotate(-10 1045 1378)"/><ellipse cx="1028" cy="1408" rx="36" ry="26" transform="rotate(25 1028 1408)" fill="#f6f2f1"/></g>
<ellipse cx="968" cy="1315" rx="58" ry="52" transform="rotate(-25 968 1315)" fill="#ffd91a" stroke="#1a1a1a" stroke-width="8"/>
<path d="M930 1300 Q945 1345 985 1362 M950 1280 Q965 1325 1008 1345 M915 1325 Q930 1360 962 1372" fill="none" stroke="#1a1a1a" stroke-width="9"/>
<circle cx="985" cy="1288" r="5" fill="#1a1a1a"/><circle cx="1008" cy="1300" r="5" fill="#1a1a1a"/>
</g>
<!-- pouch: body in local zoom 4.846 origin (1740,310); top art in local zoom 10 origin (1770,325) -->
<defs>
<linearGradient id="kraftH" x1="0" y1="0" x2="1" y2="0"><stop offset="0" stop-color="#c39a5f"/><stop offset="0.08" stop-color="#d4aa6c"/><stop offset="0.5" stop-color="#dab273"/><stop offset="0.92" stop-color="#d2a768"/><stop offset="1" stop-color="#bf955a"/></linearGradient>
<linearGradient id="kraftV" x1="0" y1="0" x2="0" y2="1"><stop offset="0" stop-color="#000" stop-opacity="0"/><stop offset="0.82" stop-color="#000" stop-opacity="0"/><stop offset="1" stop-color="#6a4a20" stop-opacity="0.16"/></linearGradient>
<linearGradient id="mtnG" gradientUnits="userSpaceOnUse" x1="0" y1="740" x2="0" y2="1010"><stop offset="0" stop-color="#9a713c" stop-opacity="0.8"/><stop offset="0.5" stop-color="#a87e48" stop-opacity="0.5"/><stop offset="1" stop-color="#c09658" stop-opacity="0"/></linearGradient>
<linearGradient id="mtnG2" gradientUnits="userSpaceOnUse" x1="0" y1="890" x2="0" y2="1040"><stop offset="0" stop-color="#a87d46" stop-opacity="0.45"/><stop offset="1" stop-color="#c09658" stop-opacity="0"/></linearGradient>
<clipPath id="pouchClip"><path d="M224 117 L1074 117 L1076 300 L1062 620 L1045 1100 L1033 1412 Q1031 1441 1003 1442 L293 1442 Q266 1441 263 1412 L248 1100 L232 560 L205 300 L205 152 L224 150 Z"/></clipPath>
</defs>
<g transform="translate(1740,310) scale(0.206356)">
<path d="M224 117 L1074 117 L1076 300 L1062 620 L1045 1100 L1033 1412 Q1031 1441 1003 1442 L293 1442 Q266 1441 263 1412 L248 1100 L232 560 L205 300 L205 152 L224 150 Z" fill="url(#kraftH)"/>
<path d="M224 117 L1074 117 L1076 300 L1062 620 L1045 1100 L1033 1412 Q1031 1441 1003 1442 L293 1442 Q266 1441 263 1412 L248 1100 L232 560 L205 300 L205 152 L224 150 Z" fill="url(#kraftV)"/>
</g>
<g clip-path="url(#pouchClipT)">
</g>
<g transform="translate(1770,325) scale(0.1)">
<!-- mountain / clouds -->
<path d="M1265 905 C1380 885, 1490 815, 1580 742 C1640 790, 1700 830, 1790 862 C1830 872, 1870 878, 1905 878 L1905 1010 L1265 1010 Z" fill="url(#mtnG)"/>
<path d="M1580 742 C1640 790, 1700 830, 1790 862 C1740 880, 1660 900, 1610 960 C1625 880, 1605 800, 1580 742Z" fill="#8a6434" opacity="0.35"/>
<path d="M1560 965 C1650 930, 1760 885, 1905 905 L1905 1040 L1560 1040Z" fill="url(#mtnG2)"/>
<path d="M1165 795 C1180 740, 1230 745, 1245 765 C1250 700, 1320 700, 1335 760 C1370 750, 1395 770, 1400 795" fill="none" stroke="#fbf7ef" stroke-width="9" stroke-linecap="round"/>
<path d="M1620 670 C1650 640, 1690 650, 1700 660 C1720 600, 1790 590, 1820 600 C1840 550, 1880 520, 1905 510" fill="none" stroke="#fbf7ef" stroke-width="10" stroke-linecap="round"/>
<path d="M1625 672 L1900 672" stroke="#fbf7ef" stroke-width="5" opacity="0.7"/>
<path d="M1670 1090 q25 -25 50 0 t50 0 t50 0 t50 0 M1760 1135 q22 -22 44 0 t44 0 t44 0" fill="none" stroke="#6f8d90" stroke-width="7"/>
<!-- leaves top -->
<path d="M165 100 L305 100 C335 250, 365 450, 385 625 C300 500, 200 310, 165 190Z" fill="#5ea6d8"/>
<path d="M330 95 L565 95 C560 170, 485 215, 405 200 C352 190, 332 140, 330 95Z" fill="#5a9fd6"/>
<path d="M370 100 L470 260 M430 100 L470 190 M440 140 L520 180" stroke="#1f2f6a" stroke-width="7" fill="none"/>
<path d="M560 95 L645 95 C655 200, 625 330, 562 425 C522 350, 522 200, 560 95 Z" fill="#2f7d3c"/>
<path d="M690 97 L865 97 C855 170, 805 222, 745 232 C702 202, 686 150, 690 97Z" fill="#b9d533"/>
<path d="M740 232 C800 200, 900 215, 948 262 C930 300, 902 320, 942 332 C900 372, 862 382, 852 425 C800 400, 752 340, 740 232Z" fill="#5b9fd8"/>
<path d="M790 392 C852 420, 882 520, 892 645 C830 580, 770 482, 790 392Z" fill="#6fae3c"/>
<path d="M865 95 L1078 95 C1150 200, 1230 280, 1282 322 C1240 380, 1200 420, 1196 502 C1150 542, 1100 502, 1080 442 C1000 422, 960 380, 950 340 C930 250, 880 180, 865 95Z" fill="#ee8a2f"/>
<path d="M1030 100 C1080 250, 1140 380, 1170 500 M940 250 L1060 330 M1200 270 L1110 330" stroke="#e2552c" stroke-width="6" fill="none"/>
<path d="M1080 95 L1418 95 C1424 200, 1402 300, 1372 352 C1300 330, 1250 280, 1200 232 C1150 180, 1100 140, 1080 95Z" fill="#2f7d45"/>
<path d="M1110 100 C1200 180, 1300 260, 1370 345 M1180 100 L1215 195 M1250 100 L1275 240 M1330 100 L1335 290 M1390 110 L1380 320 M1160 200 L1300 175 M1230 255 L1400 215" stroke="#e8d23a" stroke-width="6" fill="none"/>
<path d="M1425 95 L1562 95 C1602 200, 1622 320, 1602 432 C1520 350, 1450 230, 1425 95Z" fill="#f0952c"/>
<path d="M1500 100 C1540 200, 1580 300, 1598 420" stroke="#f6c238" stroke-width="7" fill="none"/>
<path d="M1562 95 L1762 95 C1742 180, 1652 262, 1562 332 C1540 250, 1540 170, 1562 95Z" fill="#f0c02e"/>
<path d="M1722 95 L1907 95 L1907 300 C1850 250, 1762 200, 1722 95Z" fill="#62b03d"/>
<path d="M1660 240 C1720 230, 1780 272, 1802 332 C1740 342, 1680 300, 1660 240Z" fill="#d5528c"/>
<path d="M1812 175 C1860 170, 1900 200, 1907 240 L1907 300 C1860 290, 1822 240, 1812 175Z" fill="#f0c02e"/>
<path d="M215 192 C262 160, 302 200, 332 242 C382 302, 432 352, 442 402 C400 422, 352 382, 312 342 C270 300, 230 252, 215 192Z" fill="#7a4ea8"/>
<path d="M492 242 C545 225, 590 270, 622 312 C670 365, 730 420, 742 470 C700 490, 645 450, 602 410 C555 365, 510 310, 492 242Z" fill="#7a4ea8"/>
<path d="M240 215 L420 385 M515 265 L720 455" stroke="#e9b8a0" stroke-width="5" fill="none"/>
<!-- left column -->
<path d="M180 420 C262 380, 382 482, 442 592 C340 602, 220 540, 180 420Z" fill="#c7d732"/>
<path d="M150 400 C220 430, 330 520, 430 580 M160 440 L300 420" stroke="#1a1a1a" stroke-width="8" fill="none"/>
<path d="M600 300 C590 420, 530 520, 455 562 C460 450, 520 350, 600 300Z" fill="#2f7d3c"/>
<path d="M175 500 C262 520, 342 622, 362 722 C280 702, 200 640, 175 500Z" fill="#f2a42c"/>
<path d="M190 540 L340 700 M200 600 L300 610 M230 560 L330 640" stroke="#f4d83a" stroke-width="8" fill="none"/>
<path d="M185 660 C302 680, 402 802, 422 952 C320 932, 210 830, 185 660Z" fill="#2f7d3c"/>
<path d="M200 690 C280 760, 370 860, 415 940 M210 780 L330 760 M260 860 L390 840" stroke="#d8d44a" stroke-width="5" fill="none"/>
<path d="M195 860 C282 880, 352 982, 362 1122 C280 1080, 210 982, 195 860Z" fill="#5b9fd8"/>
<path d="M205 990 C250 1020, 280 1070, 290 1130 C240 1100, 212 1050, 205 990Z" fill="#5b9fd8"/>
<!-- logo -->
<circle cx="660" cy="790" r="226" fill="#57b947"/>
<use href="#wfeText" transform="translate(660,790) scale(0.363) translate(-909.5,-747.5)"/>
<path d="M470 920 C440 960, 480 1010, 560 1020 C620 1025, 660 1000, 685 985" fill="none" stroke="#3a2a1a" stroke-width="7" stroke-dasharray="9 9"/>
<circle cx="688" cy="975" r="20" fill="#f2d21c" stroke="#1a1a1a" stroke-width="5"/>
<path d="M1655 355 L1820 355 L1845 330" stroke="#1a1a1a" stroke-width="8" fill="none"/>
</g>
<g transform="translate(1800,430) scale(0.109607)">
<rect x="90" y="92" width="535" height="1186" fill="#fbf6ee"/>
<g font-family="Liberation Sans, sans-serif" font-weight="bold" fill="#1f1a18" text-anchor="middle">
<text x="357" y="152" font-size="47" textLength="395" lengthAdjust="spacingAndGlyphs" stroke="#1f1a18" stroke-width="2">Organic Haricot</text>
<text x="357" y="222" font-size="47" textLength="150" lengthAdjust="spacingAndGlyphs" stroke="#1f1a18" stroke-width="2">Beans</text>
<text x="552" y="418" font-size="40" textLength="70" lengthAdjust="spacingAndGlyphs">1kg</text>
</g>
<rect x="105" y="312" width="505" height="8" fill="#8a8580" opacity="0.50"/>
<rect x="320" y="340" width="70" height="8" fill="#8a8580" opacity="0.50"/>
<path d="M305 395 Q305 380 320 380 L352 380 Q368 380 368 395 L368 430 L305 430 Z M315 378 L315 368 L358 368 L358 378" fill="none" stroke="#9a958f" stroke-width="5"/>
<circle cx="182" cy="468" r="80" fill="#fbf6ee" stroke="#2f9c5c" stroke-width="16"/>
<circle cx="182" cy="468" r="54" fill="#13803f"/>
<path d="M152 440 Q175 470 183 510 Q195 450 225 430 Q215 470 183 510" fill="none" stroke="#fff" stroke-width="11" stroke-linecap="round" stroke-linejoin="round"/>
<path d="M238 462 L598 430 Q612 462 606 498 L255 540 Q262 500 238 462Z" fill="#4db686"/>
<text x="425" y="492" transform="rotate(-5 425 492)" font-size="36" font-weight="bold" fill="#fff" text-anchor="middle" textLength="300" lengthAdjust="spacingAndGlyphs">WHOLEFOODS</text>
<rect x="105" y="578" width="130" height="11" fill="#1f1a18" opacity="0.95"/>
<rect x="105" y="606" width="160" height="7" fill="#8a8580" opacity="0.50"/>
<rect x="105" y="742" width="200" height="11" fill="#1f1a18" opacity="0.95"/>
<rect x="105" y="772" width="215" height="7" fill="#8a8580" opacity="0.50"/>
<rect x="105" y="790" width="203" height="7" fill="#8a8580" opacity="0.50"/>
<rect x="105" y="808" width="191" height="7" fill="#8a8580" opacity="0.50"/>
<rect x="105" y="826" width="215" height="7" fill="#8a8580" opacity="0.50"/>
<rect x="105" y="844" width="203" height="7" fill="#8a8580" opacity="0.50"/>
<rect x="105" y="862" width="191" height="7" fill="#8a8580" opacity="0.50"/>
<rect x="105" y="880" width="215" height="7" fill="#8a8580" opacity="0.50"/>
<rect x="105" y="898" width="203" height="7" fill="#8a8580" opacity="0.50"/>
<rect x="105" y="916" width="191" height="7" fill="#8a8580" opacity="0.50"/>
<rect x="105" y="934" width="215" height="7" fill="#8a8580" opacity="0.50"/>
<rect x="105" y="970" width="130" height="12" fill="#1f1a18" opacity="0.95"/>
<rect x="105" y="998" width="215" height="7" fill="#8a8580" opacity="0.50"/>
<rect x="105" y="1020" width="185" height="7" fill="#8a8580" opacity="0.50"/>
<rect x="105" y="1050" width="60" height="10" fill="#1f1a18" opacity="0.95"/>
<rect x="105" y="1077" width="115" height="10" fill="#1f1a18" opacity="0.95"/>
<rect x="105" y="1103" width="245" height="6" fill="#8a8580" opacity="0.50"/>
<rect x="105" y="1120" width="262" height="6" fill="#8a8580" opacity="0.50"/>
<rect x="105" y="1137" width="40" height="6" fill="#8a8580" opacity="0.50"/>
<rect x="105" y="1162" width="290" height="9" fill="#1f1a18" opacity="0.90"/>
<rect x="105" y="1228" width="305" height="9" fill="#1f1a18" opacity="0.90"/>
<rect x="105" y="1254" width="215" height="9" fill="#1f1a18" opacity="0.90"/>
<rect x="460" y="1234" width="148" height="6" fill="#8a8580" opacity="0.50"/>
<rect x="460" y="1250" width="148" height="6" fill="#8a8580" opacity="0.50"/>
<rect x="352" y="738" width="258" height="68" fill="#2e2220"/>
<rect x="392" y="752" width="180" height="9" fill="#f4efe8" opacity="0.90"/>
<rect x="400" y="782" width="165" height="9" fill="#f4efe8" opacity="0.90"/>
<rect x="352" y="812" width="258" height="250" fill="#f4efe8" stroke="#3a302c" stroke-width="4"/>
<path d="M352 832 L610 832" stroke="#3a302c" stroke-width="5"/>
<path d="M352 855 L610 855" stroke="#3a302c" stroke-width="3"/>
<path d="M352 878 L610 878" stroke="#3a302c" stroke-width="3"/>
<path d="M352 901 L610 901" stroke="#3a302c" stroke-width="5"/>
<path d="M352 924 L610 924" stroke="#3a302c" stroke-width="3"/>
<path d="M352 947 L610 947" stroke="#3a302c" stroke-width="3"/>
<path d="M352 970 L610 970" stroke="#3a302c" stroke-width="5"/>
<path d="M352 993 L610 993" stroke="#3a302c" stroke-width="3"/>
<path d="M352 1016 L610 1016" stroke="#3a302c" stroke-width="3"/>
<path d="M352 1039 L610 1039" stroke="#3a302c" stroke-width="5"/>
<path d="M480 812 L480 1062 M545 812 L545 1062" stroke="#3a302c" stroke-width="3"/>
<rect x="405" y="1075" width="8" height="66" fill="#2a2a2a"/>
<rect x="417" y="1075" width="11" height="66" fill="#2a2a2a"/>
<rect x="436" y="1075" width="4" height="66" fill="#2a2a2a"/>
<rect x="444" y="1075" width="4" height="66" fill="#2a2a2a"/>
<rect x="454" y="1075" width="4" height="66" fill="#2a2a2a"/>
<rect x="466" y="1075" width="6" height="66" fill="#2a2a2a"/>
<rect x="476" y="1075" width="4" height="66" fill="#2a2a2a"/>
<rect x="486" y="1075" width="11" height="66" fill="#2a2a2a"/>
<rect x="501" y="1075" width="6" height="66" fill="#2a2a2a"/>
<rect x="511" y="1075" width="11" height="66" fill="#2a2a2a"/>
<rect x="526" y="1075" width="4" height="66" fill="#2a2a2a"/>
<rect x="534" y="1075" width="4" height="66" fill="#2a2a2a"/>
<rect x="546" y="1075" width="11" height="66" fill="#2a2a2a"/>
<rect x="561" y="1075" width="6" height="66" fill="#2a2a2a"/>
<rect x="571" y="1075" width="6" height="66" fill="#2a2a2a"/>
<rect x="583" y="1075" width="11" height="66" fill="#2a2a2a"/>
<rect x="598" y="1075" width="4" height="66" fill="#2a2a2a"/>
<rect x="508" y="1155" width="100" height="67" fill="#8dc63f"/>
<path d="M530 1200 Q558 1165 590 1175 Q580 1208 545 1208" fill="none" stroke="#fff" stroke-width="4" stroke-dasharray="5 4"/>
<rect x="448" y="1160" width="52" height="62" fill="#e9e5de"/><rect x="452" y="1188" width="22" height="12" fill="#3aa64a"/><rect x="452" y="1204" width="40" height="6" fill="#8a8580"/><rect x="452" y="1166" width="40" height="6" fill="#8a8580"/>
<g>
<ellipse cx="825" cy="520" rx="36" ry="120" transform="rotate(-42 825 520)" fill="#3f9440"/>
<ellipse cx="880" cy="585" rx="30" ry="70" transform="rotate(-30 880 585)" fill="#2f8a3a"/>
<ellipse cx="930" cy="505" rx="26" ry="60" transform="rotate(-15 930 505)" fill="#6a62b8"/>
<ellipse cx="965" cy="500" rx="24" ry="58" transform="rotate(15 965 500)" fill="#6fa8dc"/>
<ellipse cx="905" cy="520" rx="20" ry="50" transform="rotate(-50 905 520)" fill="#7ab8e8"/>
<ellipse cx="1035" cy="470" rx="8" ry="95" transform="rotate(8 1035 470)" fill="#b8b06a"/>
<ellipse cx="1010" cy="480" rx="6" ry="80" transform="rotate(-5 1010 480)" fill="#9aa860"/>
<ellipse cx="1075" cy="415" rx="34" ry="30" transform="rotate(0 1075 415)" fill="#ea7a7e"/>
<ellipse cx="1100" cy="440" rx="22" ry="20" transform="rotate(0 1100 440)" fill="#f2a0a0"/>
<ellipse cx="1140" cy="455" rx="42" ry="90" transform="rotate(12 1140 455)" fill="#6cb544"/>
<ellipse cx="1130" cy="470" rx="14" ry="70" transform="rotate(12 1130 470)" fill="#9fd070"/>
<ellipse cx="1225" cy="520" rx="40" ry="46" transform="rotate(30 1225 520)" fill="#6fa8dc"/>
<ellipse cx="1205" cy="545" rx="26" ry="30" transform="rotate(0 1205 545)" fill="#8fc0e8"/>
<ellipse cx="1300" cy="525" rx="38" ry="100" transform="rotate(48 1300 525)" fill="#4fa345"/>
<ellipse cx="1285" cy="560" rx="20" ry="70" transform="rotate(48 1285 560)" fill="#3a8a3a"/>
<ellipse cx="1335" cy="605" rx="48" ry="52" transform="rotate(0 1335 605)" fill="#a6dc94"/>
<ellipse cx="1335" cy="605" rx="30" ry="34" transform="rotate(0 1335 605)" fill="#c6ecb8"/>
<ellipse cx="1305" cy="690" rx="34" ry="62" transform="rotate(25 1305 690)" fill="#e8684a"/>
<ellipse cx="1285" cy="715" rx="20" ry="40" transform="rotate(40 1285 715)" fill="#f08a6a"/>
<ellipse cx="1335" cy="765" rx="24" ry="66" transform="rotate(70 1335 765)" fill="#f2b632"/>
<ellipse cx="1320" cy="790" rx="20" ry="55" transform="rotate(85 1320 790)" fill="#f6cc52"/>
<ellipse cx="1310" cy="850" rx="30" ry="64" transform="rotate(100 1310 850)" fill="#7cc444"/>
<ellipse cx="1295" cy="885" rx="22" ry="50" transform="rotate(120 1295 885)" fill="#5cae3c"/>
<ellipse cx="1285" cy="905" rx="34" ry="30" transform="rotate(0 1285 905)" fill="#6fa8dc"/>
<ellipse cx="1272" cy="992" rx="44" ry="44" transform="rotate(0 1272 992)" fill="#f2a22c"/>
<ellipse cx="1272" cy="992" rx="20" ry="20" transform="rotate(0 1272 992)" fill="#f6c85a"/>
<ellipse cx="1185" cy="1010" rx="16" ry="62" transform="rotate(-18 1185 1010)" fill="#8a6aa8"/>
<ellipse cx="1215" cy="1000" rx="14" ry="56" transform="rotate(-5 1215 1000)" fill="#7a5a98"/>
<ellipse cx="1160" cy="1030" rx="12" ry="50" transform="rotate(-30 1160 1030)" fill="#9a7ab8"/>
<ellipse cx="1125" cy="1060" rx="18" ry="42" transform="rotate(25 1125 1060)" fill="#f4efe0"/>
<ellipse cx="1065" cy="1050" rx="34" ry="70" transform="rotate(40 1065 1050)" fill="#c8922a"/>
<ellipse cx="1045" cy="1075" rx="22" ry="50" transform="rotate(60 1045 1075)" fill="#b07a1e"/>
<ellipse cx="1000" cy="1075" rx="26" ry="95" transform="rotate(5 1000 1075)" fill="#7ab8d8"/>
<ellipse cx="980" cy="1050" rx="16" ry="70" transform="rotate(-12 980 1050)" fill="#9acce6"/>
<ellipse cx="905" cy="1060" rx="32" ry="92" transform="rotate(-140 905 1060)" fill="#4fa345"/>
<ellipse cx="925" cy="1030" rx="16" ry="60" transform="rotate(-140 925 1030)" fill="#6cb544"/>
<ellipse cx="905" cy="975" rx="36" ry="40" transform="rotate(0 905 975)" fill="#e8705a"/>
<ellipse cx="925" cy="990" rx="20" ry="22" transform="rotate(0 925 990)" fill="#f29a80"/>
<ellipse cx="835" cy="935" rx="30" ry="72" transform="rotate(-115 835 935)" fill="#7cc444"/>
<ellipse cx="860" cy="960" rx="18" ry="50" transform="rotate(-120 860 960)" fill="#a0d860"/>
<ellipse cx="780" cy="885" rx="12" ry="64" transform="rotate(-70 780 885)" fill="#5a8a9a"/>
<ellipse cx="795" cy="905" rx="10" ry="52" transform="rotate(-60 795 905)" fill="#6a9aaa"/>
<ellipse cx="770" cy="865" rx="10" ry="50" transform="rotate(-85 770 865)" fill="#4a7a8a"/>
<ellipse cx="762" cy="810" rx="58" ry="30" transform="rotate(-15 762 810)" fill="#3a8a3a"/>
<ellipse cx="775" cy="800" rx="34" ry="16" transform="rotate(-15 775 800)" fill="#2a7a2a"/>
<ellipse cx="740" cy="705" rx="50" ry="22" transform="rotate(10 740 705)" fill="#7ab8d8"/>
<ellipse cx="760" cy="725" rx="34" ry="14" transform="rotate(25 760 725)" fill="#9acce6"/>
<ellipse cx="765" cy="650" rx="46" ry="22" transform="rotate(-20 765 650)" fill="#f2a630"/>
<ellipse cx="790" cy="630" rx="30" ry="14" transform="rotate(-35 790 630)" fill="#f6c24a"/>
<ellipse cx="735" cy="600" rx="26" ry="40" transform="rotate(-30 735 600)" fill="#8fd060"/>
<ellipse cx="720" cy="625" rx="18" ry="26" transform="rotate(0 720 625)" fill="#a8e078"/>
<ellipse cx="800" cy="585" rx="40" ry="34" transform="rotate(0 800 585)" fill="#f08a30"/>
<ellipse cx="820" cy="600" rx="22" ry="20" transform="rotate(0 820 600)" fill="#f4a850"/>
</g>
<circle cx="902" cy="1149" r="5" fill="#a89a80" opacity="0.8"/>
<circle cx="706" cy="571" r="5" fill="#8a9a6a" opacity="0.8"/>
<circle cx="728" cy="665" r="9" fill="#e0b040" opacity="0.8"/>
<circle cx="1158" cy="1147" r="7" fill="#d89a50" opacity="0.8"/>
<circle cx="637" cy="855" r="7" fill="#8a9a6a" opacity="0.8"/>
<circle cx="1053" cy="1112" r="5" fill="#a89a80" opacity="0.8"/>
<circle cx="708" cy="592" r="9" fill="#8a9a6a" opacity="0.8"/>
<circle cx="679" cy="888" r="5" fill="#e0b040" opacity="0.8"/>
<circle cx="704" cy="739" r="5" fill="#8a9a6a" opacity="0.8"/>
<circle cx="1389" cy="613" r="9" fill="#e0b040" opacity="0.8"/>
<circle cx="675" cy="580" r="7" fill="#8a9a6a" opacity="0.8"/>
<circle cx="918" cy="398" r="5" fill="#d89a50" opacity="0.8"/>
<circle cx="1277" cy="406" r="9" fill="#d89a50" opacity="0.8"/>
<circle cx="877" cy="476" r="9" fill="#8a9a6a" opacity="0.8"/>
<circle cx="698" cy="577" r="7" fill="#d89a50" opacity="0.8"/>
<circle cx="962" cy="355" r="5" fill="#8a9a6a" opacity="0.8"/>
<circle cx="1390" cy="631" r="7" fill="#e0b040" opacity="0.8"/>
<circle cx="1429" cy="912" r="9" fill="#a89a80" opacity="0.8"/>
<circle cx="1055" cy="1134" r="5" fill="#d89a50" opacity="0.8"/>
<circle cx="1235" cy="1085" r="5" fill="#8a9a6a" opacity="0.8"/>
<circle cx="1225" cy="387" r="9" fill="#8a9a6a" opacity="0.8"/>
<circle cx="734" cy="950" r="5" fill="#d89a50" opacity="0.8"/>
<circle cx="1252" cy="1047" r="9" fill="#a89a80" opacity="0.8"/>
<circle cx="1089" cy="1141" r="7" fill="#a89a80" opacity="0.8"/>
<circle cx="981" cy="1102" r="9" fill="#8a9a6a" opacity="0.8"/>
<circle cx="661" cy="592" r="7" fill="#e0b040" opacity="0.8"/>
<circle cx="1050" cy="765" r="228" fill="#cfc6b0"/>
<clipPath id="beanClip"><circle cx="1050" cy="765" r="226"/></clipPath><g clip-path="url(#beanClip)">
<ellipse cx="955" cy="533" rx="38" ry="24" transform="rotate(-39 955 533)" fill="#f5f1e6" stroke="#d6cfbd" stroke-width="4"/>
<ellipse cx="1021" cy="529" rx="38" ry="24" transform="rotate(-43 1021 529)" fill="#f5f1e6" stroke="#d6cfbd" stroke-width="4"/>
<ellipse cx="1076" cy="530" rx="38" ry="24" transform="rotate(-15 1076 530)" fill="#f5f1e6" stroke="#d6cfbd" stroke-width="4"/>
<ellipse cx="919" cy="585" rx="38" ry="24" transform="rotate(49 919 585)" fill="#f5f1e6" stroke="#d6cfbd" stroke-width="4"/>
<ellipse cx="987" cy="580" rx="38" ry="24" transform="rotate(-41 987 580)" fill="#f5f1e6" stroke="#d6cfbd" stroke-width="4"/>
<ellipse cx="1043" cy="579" rx="38" ry="24" transform="rotate(-23 1043 579)" fill="#f5f1e6" stroke="#d6cfbd" stroke-width="4"/>
<ellipse cx="1117" cy="576" rx="38" ry="24" transform="rotate(-47 1117 576)" fill="#f5f1e6" stroke="#d6cfbd" stroke-width="4"/>
<ellipse cx="1181" cy="581" rx="38" ry="24" transform="rotate(-35 1181 581)" fill="#f5f1e6" stroke="#d6cfbd" stroke-width="4"/>
<ellipse cx="891" cy="625" rx="38" ry="24" transform="rotate(-33 891 625)" fill="#f5f1e6" stroke="#d6cfbd" stroke-width="4"/>
<ellipse cx="961" cy="627" rx="38" ry="24" transform="rotate(27 961 627)" fill="#f5f1e6" stroke="#d6cfbd" stroke-width="4"/>
<ellipse cx="1016" cy="623" rx="38" ry="24" transform="rotate(31 1016 623)" fill="#f5f1e6" stroke="#d6cfbd" stroke-width="4"/>
<ellipse cx="1088" cy="631" rx="38" ry="24" transform="rotate(30 1088 631)" fill="#f5f1e6" stroke="#d6cfbd" stroke-width="4"/>
<ellipse cx="1148" cy="629" rx="38" ry="24" transform="rotate(-27 1148 629)" fill="#f5f1e6" stroke="#d6cfbd" stroke-width="4"/>
<ellipse cx="1205" cy="625" rx="38" ry="24" transform="rotate(-47 1205 625)" fill="#f5f1e6" stroke="#d6cfbd" stroke-width="4"/>
<ellipse cx="870" cy="678" rx="38" ry="24" transform="rotate(45 870 678)" fill="#f5f1e6" stroke="#d6cfbd" stroke-width="4"/>
<ellipse cx="923" cy="669" rx="38" ry="24" transform="rotate(-27 923 669)" fill="#f5f1e6" stroke="#d6cfbd" stroke-width="4"/>
<ellipse cx="983" cy="669" rx="38" ry="24" transform="rotate(12 983 669)" fill="#f5f1e6" stroke="#d6cfbd" stroke-width="4"/>
<ellipse cx="1056" cy="677" rx="38" ry="24" transform="rotate(-2 1056 677)" fill="#f5f1e6" stroke="#d6cfbd" stroke-width="4"/>
<ellipse cx="1114" cy="676" rx="38" ry="24" transform="rotate(-41 1114 676)" fill="#f5f1e6" stroke="#d6cfbd" stroke-width="4"/>
<ellipse cx="1176" cy="677" rx="38" ry="24" transform="rotate(28 1176 677)" fill="#f5f1e6" stroke="#d6cfbd" stroke-width="4"/>
<ellipse cx="1240" cy="672" rx="38" ry="24" transform="rotate(-32 1240 672)" fill="#f5f1e6" stroke="#d6cfbd" stroke-width="4"/>
<ellipse cx="837" cy="724" rx="38" ry="24" transform="rotate(-10 837 724)" fill="#f5f1e6" stroke="#d6cfbd" stroke-width="4"/>
<ellipse cx="893" cy="724" rx="38" ry="24" transform="rotate(22 893 724)" fill="#f5f1e6" stroke="#d6cfbd" stroke-width="4"/>
<ellipse cx="951" cy="714" rx="38" ry="24" transform="rotate(-34 951 714)" fill="#f5f1e6" stroke="#d6cfbd" stroke-width="4"/>
<ellipse cx="1025" cy="722" rx="38" ry="24" transform="rotate(-35 1025 722)" fill="#f5f1e6" stroke="#d6cfbd" stroke-width="4"/>
<ellipse cx="1086" cy="724" rx="38" ry="24" transform="rotate(15 1086 724)" fill="#f5f1e6" stroke="#d6cfbd" stroke-width="4"/>
<ellipse cx="1140" cy="719" rx="38" ry="24" transform="rotate(-36 1140 719)" fill="#f5f1e6" stroke="#d6cfbd" stroke-width="4"/>
<ellipse cx="1197" cy="724" rx="38" ry="24" transform="rotate(14 1197 724)" fill="#f5f1e6" stroke="#d6cfbd" stroke-width="4"/>
<ellipse cx="1267" cy="724" rx="38" ry="24" transform="rotate(-6 1267 724)" fill="#f5f1e6" stroke="#d6cfbd" stroke-width="4"/>
<ellipse cx="860" cy="761" rx="38" ry="24" transform="rotate(8 860 761)" fill="#f5f1e6" stroke="#d6cfbd" stroke-width="4"/>
<ellipse cx="922" cy="764" rx="38" ry="24" transform="rotate(-36 922 764)" fill="#f5f1e6" stroke="#d6cfbd" stroke-width="4"/>
<ellipse cx="994" cy="763" rx="38" ry="24" transform="rotate(-4 994 763)" fill="#f5f1e6" stroke="#d6cfbd" stroke-width="4"/>
<ellipse cx="1051" cy="769" rx="38" ry="24" transform="rotate(-7 1051 769)" fill="#f5f1e6" stroke="#d6cfbd" stroke-width="4"/>
<ellipse cx="1118" cy="765" rx="38" ry="24" transform="rotate(3 1118 765)" fill="#f5f1e6" stroke="#d6cfbd" stroke-width="4"/>
<ellipse cx="1174" cy="759" rx="38" ry="24" transform="rotate(-5 1174 759)" fill="#f5f1e6" stroke="#d6cfbd" stroke-width="4"/>
<ellipse cx="1230" cy="759" rx="38" ry="24" transform="rotate(29 1230 759)" fill="#f5f1e6" stroke="#d6cfbd" stroke-width="4"/>
<ellipse cx="1292" cy="764" rx="38" ry="24" transform="rotate(22 1292 764)" fill="#f5f1e6" stroke="#d6cfbd" stroke-width="4"/>
<ellipse cx="833" cy="808" rx="38" ry="24" transform="rotate(1 833 808)" fill="#f5f1e6" stroke="#d6cfbd" stroke-width="4"/>
<ellipse cx="895" cy="814" rx="38" ry="24" transform="rotate(-39 895 814)" fill="#f5f1e6" stroke="#d6cfbd" stroke-width="4"/>
<ellipse cx="957" cy="807" rx="38" ry="24" transform="rotate(-22 957 807)" fill="#f5f1e6" stroke="#d6cfbd" stroke-width="4"/>
<ellipse cx="1023" cy="811" rx="38" ry="24" transform="rotate(6 1023 811)" fill="#f5f1e6" stroke="#d6cfbd" stroke-width="4"/>
<ellipse cx="1085" cy="815" rx="38" ry="24" transform="rotate(-5 1085 815)" fill="#f5f1e6" stroke="#d6cfbd" stroke-width="4"/>
<ellipse cx="1144" cy="811" rx="38" ry="24" transform="rotate(1 1144 811)" fill="#f5f1e6" stroke="#d6cfbd" stroke-width="4"/>
<ellipse cx="1208" cy="810" rx="38" ry="24" transform="rotate(3 1208 810)" fill="#f5f1e6" stroke="#d6cfbd" stroke-width="4"/>
<ellipse cx="1266" cy="816" rx="38" ry="24" transform="rotate(19 1266 816)" fill="#f5f1e6" stroke="#d6cfbd" stroke-width="4"/>
<ellipse cx="871" cy="861" rx="38" ry="24" transform="rotate(-36 871 861)" fill="#f5f1e6" stroke="#d6cfbd" stroke-width="4"/>
<ellipse cx="919" cy="856" rx="38" ry="24" transform="rotate(-42 919 856)" fill="#f5f1e6" stroke="#d6cfbd" stroke-width="4"/>
<ellipse cx="983" cy="851" rx="38" ry="24" transform="rotate(16 983 851)" fill="#f5f1e6" stroke="#d6cfbd" stroke-width="4"/>
<ellipse cx="1054" cy="861" rx="38" ry="24" transform="rotate(-34 1054 861)" fill="#f5f1e6" stroke="#d6cfbd" stroke-width="4"/>
<ellipse cx="1115" cy="858" rx="38" ry="24" transform="rotate(-35 1115 858)" fill="#f5f1e6" stroke="#d6cfbd" stroke-width="4"/>
<ellipse cx="1180" cy="862" rx="38" ry="24" transform="rotate(-28 1180 862)" fill="#f5f1e6" stroke="#d6cfbd" stroke-width="4"/>
<ellipse cx="1243" cy="855" rx="38" ry="24" transform="rotate(-1 1243 855)" fill="#f5f1e6" stroke="#d6cfbd" stroke-width="4"/>
<ellipse cx="895" cy="901" rx="38" ry="24" transform="rotate(-30 895 901)" fill="#f5f1e6" stroke="#d6cfbd" stroke-width="4"/>
<ellipse cx="954" cy="905" rx="38" ry="24" transform="rotate(-48 954 905)" fill="#f5f1e6" stroke="#d6cfbd" stroke-width="4"/>
<ellipse cx="1019" cy="902" rx="38" ry="24" transform="rotate(-48 1019 902)" fill="#f5f1e6" stroke="#d6cfbd" stroke-width="4"/>
<ellipse cx="1078" cy="904" rx="38" ry="24" transform="rotate(1 1078 904)" fill="#f5f1e6" stroke="#d6cfbd" stroke-width="4"/>
<ellipse cx="1136" cy="908" rx="38" ry="24" transform="rotate(28 1136 908)" fill="#f5f1e6" stroke="#d6cfbd" stroke-width="4"/>
<ellipse cx="1212" cy="898" rx="38" ry="24" transform="rotate(-23 1212 898)" fill="#f5f1e6" stroke="#d6cfbd" stroke-width="4"/>
<ellipse cx="920" cy="954" rx="38" ry="24" transform="rotate(7 920 954)" fill="#f5f1e6" stroke="#d6cfbd" stroke-width="4"/>
<ellipse cx="991" cy="944" rx="38" ry="24" transform="rotate(-44 991 944)" fill="#f5f1e6" stroke="#d6cfbd" stroke-width="4"/>
<ellipse cx="1053" cy="948" rx="38" ry="24" transform="rotate(-42 1053 948)" fill="#f5f1e6" stroke="#d6cfbd" stroke-width="4"/>
<ellipse cx="1119" cy="950" rx="38" ry="24" transform="rotate(30 1119 950)" fill="#f5f1e6" stroke="#d6cfbd" stroke-width="4"/>
<ellipse cx="1167" cy="953" rx="38" ry="24" transform="rotate(-43 1167 953)" fill="#f5f1e6" stroke="#d6cfbd" stroke-width="4"/>
<ellipse cx="952" cy="990" rx="38" ry="24" transform="rotate(-33 952 990)" fill="#f5f1e6" stroke="#d6cfbd" stroke-width="4"/>
<ellipse cx="1011" cy="991" rx="38" ry="24" transform="rotate(-18 1011 991)" fill="#f5f1e6" stroke="#d6cfbd" stroke-width="4"/>
<ellipse cx="1077" cy="998" rx="38" ry="24" transform="rotate(-21 1077 998)" fill="#f5f1e6" stroke="#d6cfbd" stroke-width="4"/>
<ellipse cx="1143" cy="991" rx="38" ry="24" transform="rotate(-15 1143 991)" fill="#f5f1e6" stroke="#d6cfbd" stroke-width="4"/>
</g>
</g>
<!-- consumers: local zoom 6.203, origin (1300,130) -->
<g transform="translate(1300,130) scale(0.161212)">
<ellipse cx="742" cy="1360" rx="448" ry="40" fill="#ead0ca"/>
<ellipse cx="1557" cy="1352" rx="345" ry="42" fill="#ead0ca"/>
<!-- man -->
<path d="M465 755 L640 755 L634 1000 L620 1322 L585 1322 L565 950 L545 1322 L497 1322 L488 1000 Z" fill="#2f7ba8"/>
<path d="M565 800 L640 760 L634 1000 L620 1322 L585 1322 Z" fill="#296f9c"/>
<path d="M428 1358 Q470 1330 500 1320 L542 1322 L540 1364 L430 1366 Z" fill="#7a3d25"/>
<path d="M520 1362 Q560 1335 590 1324 L626 1326 L622 1360 Z" fill="#6a3420"/>
<path d="M440 520 L462 540 L425 775 Q420 800 395 800 L385 785 Z" fill="#f5a97f"/>
<path d="M655 540 L708 515 L738 790 Q742 830 725 838 L700 830 L695 790 Z" fill="#f5a97f"/>
<rect x="525" y="315" width="65" height="65" fill="#ee9a72"/>
<path d="M462 372 Q550 350 640 362 Q668 372 670 410 L672 757 L445 757 L448 420 Q448 385 462 372Z" fill="#f0874b"/>
<path d="M432 402 Q440 378 464 372 L460 545 L432 530 Z" fill="#f7c85a"/>
<path d="M600 400 Q610 370 650 372 Q685 390 712 520 L652 548 Q610 500 600 400Z" fill="#f5c255"/>
<ellipse cx="551" cy="252" rx="56" ry="82" fill="#f5a97f"/>
<path d="M480 200 Q475 140 500 118 L495 102 Q520 108 530 112 Q590 95 625 140 Q650 190 628 258 L605 232 Q600 190 570 175 Q520 175 495 190 L490 240 Z" fill="#9e4a46"/>
<!-- basket -->
<path d="M290 962 Q300 800 375 800 Q450 800 470 962" fill="none" stroke="#2a3a9c" stroke-width="15"/>
<path d="M310 960 Q320 850 375 835 Q430 850 445 960 Z" fill="#dcecf6"/>
<path d="M345 900 q15 -30 30 0 t30 0 M340 930 q15 -25 30 0" stroke="#8ac0e0" stroke-width="8" fill="none"/>
<rect x="258" y="880" width="22" height="85" fill="#2a2a4a"/><rect x="262" y="868" width="14" height="16" fill="#1a1a2a"/>
<rect x="478" y="870" width="26" height="95" rx="8" fill="#d4303a"/>
<rect x="318" y="918" width="90" height="46" rx="6" fill="#e8b890"/><rect x="318" y="935" width="90" height="12" fill="#8a5a3a"/>
<ellipse cx="432" cy="940" rx="30" ry="24" fill="#f0c8a0"/>
<rect x="225" y="930" width="36" height="34" fill="#e8c040"/>
<path d="M185 985 L548 985 L500 1156 L240 1156 Z" fill="#dc474d"/>
<path d="M175 962 L557 962 L552 990 L182 990 Z" fill="#c93c44"/>
<g stroke="#f4d0c8" stroke-width="9" stroke-linecap="round"><path d="M250 1025 L262 1110"/><path d="M290 1025 L298 1110"/><path d="M330 1025 L335 1110"/><path d="M370 1025 L372 1110"/><path d="M410 1025 L408 1110"/><path d="M450 1025 L444 1110"/><path d="M490 1025 L478 1110"/></g>
<g stroke="#2a3a6a" stroke-width="9" stroke-linecap="round"><path d="M270 1040 L276 1085"/><path d="M350 1045 L352 1085"/><path d="M430 1040 L427 1080"/></g>
<!-- woman -->
<path d="M860 715 L985 715 L978 950 L940 1080 L850 1190 L775 1292 L745 1256 L835 1120 L880 1000 Z" fill="#2451a0"/>
<path d="M790 715 L905 715 L935 1000 L895 1342 L856 1342 L845 1050 Z" fill="#2b5db2"/>
<path d="M742 1252 L776 1290 L792 1338 L770 1338 L744 1282 Z" fill="#1f4050"/>
<path d="M856 1336 L896 1336 L950 1356 L950 1366 L858 1366 Z" fill="#1f4050"/>
<path d="M975 540 L990 590 L1100 628 L1195 640 Q1212 632 1200 620 L1110 598 L1002 540 Z" fill="#f5a97f"/>
<path d="M925 175 L968 190 L977 384 L934 388 Z" fill="#84453a"/>
<rect x="880" y="328" width="52" height="65" fill="#ee9a72"/>
<path d="M792 402 Q830 378 872 376 L960 380 Q1000 395 1000 435 L985 560 L982 716 L790 716 L800 560 Q760 480 758 440 Q765 415 792 402Z" fill="#f7c95c"/>
<path d="M760 440 L802 452 L792 560 L882 720 L936 750 Q945 770 930 778 L862 762 L740 562 Z" fill="#f5a97f"/>
<ellipse cx="922" cy="268" rx="45" ry="76" fill="#f5a97f"/>
<path d="M892 130 Q950 126 970 192 Q940 178 912 196 Q888 218 884 262 Q872 300 872 462 L802 442 Q790 300 800 240 Q815 150 892 130Z" fill="#8c4a3c"/>
<!-- cart -->
<g fill="#fbfaf9" opacity="0.45"><path d="M1235 960 L1800 960 L1770 1180 L1260 1180 Z"/><rect x="1330" y="1180" width="14" height="100"/><rect x="1740" y="1180" width="14" height="100"/></g>
<rect x="1240" y="715" width="122" height="90" rx="8" fill="#e8a878"/>
<rect x="1372" y="742" width="80" height="62" fill="#f0d488"/>
<rect x="1462" y="708" width="18" height="75" fill="#d4303a"/><rect x="1524" y="708" width="26" height="95" rx="6" fill="#2a2a4a"/>
<path d="M1590 790 Q1595 705 1640 700 Q1685 710 1682 790 Z" fill="#eab088"/>
<rect x="1590" y="770" width="130" height="50" fill="#e8b090"/>
<rect x="1238" y="822" width="66" height="140" rx="20" fill="#e23b33"/>
<rect x="1300" y="800" width="100" height="165" fill="#7fc4dc"/><rect x="1315" y="850" width="70" height="60" fill="#e8f4f8"/>
<rect x="1452" y="785" width="108" height="85" fill="#8fd0e0"/><rect x="1465" y="800" width="80" height="30" fill="#e8f4f8"/>
<rect x="1405" y="865" width="80" height="92" fill="#d4303a"/><circle cx="1445" cy="918" r="22" fill="none" stroke="#fbeaea" stroke-width="8"/>
<rect x="1485" y="865" width="75" height="92" fill="#c42832"/><rect x="1498" y="890" width="48" height="18" fill="#f4d0d0"/>
<rect x="1578" y="842" width="92" height="118" fill="#8a5a3a"/><rect x="1578" y="880" width="92" height="28" fill="#f4efe8"/><rect x="1618" y="842" width="8" height="118" fill="#f4efe8"/>
<path d="M1682 822 L1752 822 L1745 960 L1690 960 Z" fill="#d4303a"/><path d="M1705 830 L1735 830 L1712 905 L1732 905 L1700 955Z" fill="#fbeaea"/>
<path d="M1745 790 Q1790 800 1788 870 Q1785 940 1750 945 Z" fill="#e0a070"/>
<rect x="1680" y="1250" width="100" height="12" fill="#9aa6b8"/>
<g fill="#2c3644"><circle cx="1378" cy="1322" r="42"/><circle cx="1487" cy="1322" r="42"/><circle cx="1620" cy="1322" r="42"/><circle cx="1752" cy="1322" r="42"/></g>
<g fill="#8793a5"><rect x="1368" y="1285" width="20" height="40" rx="8"/><rect x="1477" y="1285" width="20" height="40" rx="8"/><rect x="1610" y="1285" width="20" height="40" rx="8"/><rect x="1742" y="1272" width="20" height="52" rx="8"/></g>
</g>
</svg>
</body></html>
